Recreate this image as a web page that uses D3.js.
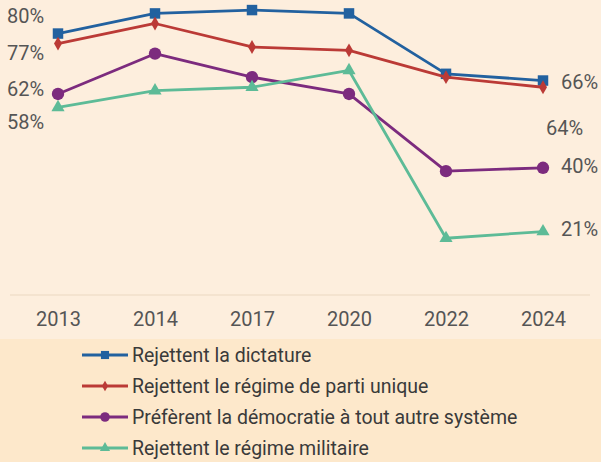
<!DOCTYPE html>
<meta charset="utf-8">
<html>
<head>
<style>
  body { margin: 0; background: #fdeedd; }
  svg { display: block; font-family: Roboto, sans-serif; }
</style>
</head>
<body>
<svg width="601" height="462"></svg>
<script src="https://d3js.org/d3.v7.min.js"></script>
<script>
// years on the x axis
var years = ["2013", "2014", "2017", "2020", "2022", "2024"];

// series values (percent)
var dictature = [80, 86, 87, 86, 68, 66];
var partiUnique = [77, 83, 76, 75, 67, 64];
var democratie = [62, 74, 67, 62, 39, 40];
var militaire = [58, 63, 64, 69, 19, 21];

var seriesNames = [
  "Rejettent la dictature",
  "Rejettent le régime de parti unique",
  "Préfèrent la démocratie à tout autre système",
  "Rejettent le régime militaire"
];

// text labels placed next to the lines
var leftLabels = ["80%", "77%", "62%", "58%"];
var rightLabels = ["66%", "64%", "40%", "21%"];

var svg = d3.select("svg");

var series = [
  {name: seriesNames[0], values: dictature, color: "#22619f", marker: d3.symbolSquare, size: 110},
  {name: seriesNames[1], values: partiUnique, color: "#bb3a36", marker: d3.symbolDiamond, size: 55},
  {name: seriesNames[2], values: democratie, color: "#7c2b7e", marker: d3.symbolCircle, size: 120},
  {name: seriesNames[3], values: militaire, color: "#5dbb97", marker: d3.symbolTriangle, size: 75}
];

var x = d3.scalePoint()
  .domain(years)
  .range([58, 543]);

var y = d3.scaleLinear()
  .domain([0, 90])
  .range([302, 0]);

// legend band
svg.append("rect")
  .attr("x", 0).attr("y", 339)
  .attr("width", 601).attr("height", 123)
  .attr("fill", "#fde8cb");

// baseline
svg.append("line")
  .attr("x1", 10).attr("x2", 590)
  .attr("y1", 295).attr("y2", 295)
  .attr("stroke", "#f0dfca")
  .attr("stroke-width", 1.5);

// x axis labels
var xAxis = svg.append("g")
  .attr("transform", "translate(0,310)")
  .call(d3.axisBottom(x).tickSize(0).tickPadding(0));
xAxis.select(".domain").remove();
xAxis.selectAll("text")
  .attr("dy", "0.8em")
  .attr("font-family", "Roboto, sans-serif")
  .attr("font-size", 20)
  .attr("fill", "#555");

var line = d3.line()
  .x(function(d, i) { return x(years[i]); })
  .y(function(d) { return y(d); });

series.forEach(function(s) {
  svg.append("path")
    .datum(s.values)
    .attr("fill", "none")
    .attr("stroke", s.color)
    .attr("stroke-width", 2.8)
    .attr("stroke-linejoin", "round")
    .attr("d", line);

  svg.append("g")
    .selectAll("path")
    .data(s.values)
    .enter().append("path")
    .attr("transform", function(d, i) { return "translate(" + x(years[i]) + "," + y(d) + ")"; })
    .attr("d", d3.symbol().type(s.marker).size(s.size))
    .attr("fill", s.color);
});

// left value labels
var leftY = [16, 53, 89, 122];
svg.append("g")
  .selectAll("text")
  .data(leftLabels)
  .enter().append("text")
  .attr("x", 7)
  .attr("y", function(d, i) { return leftY[i]; })
  .attr("dy", "0.35em")
  .attr("font-family", "Roboto, sans-serif")
  .attr("font-size", 20)
  .attr("fill", "#555")
  .text(function(d) { return d; });

// right value labels
var rightPos = [[561, 82], [546, 128], [561, 166], [561, 229]];
svg.append("g")
  .selectAll("text")
  .data(rightLabels)
  .enter().append("text")
  .attr("x", function(d, i) { return rightPos[i][0]; })
  .attr("y", function(d, i) { return rightPos[i][1]; })
  .attr("dy", "0.35em")
  .attr("font-family", "Roboto, sans-serif")
  .attr("font-size", 20)
  .attr("fill", "#555")
  .text(function(d) { return d; });

// legend
var legend = svg.append("g")
  .selectAll("g")
  .data(series)
  .enter().append("g")
  .attr("transform", function(d, i) { return "translate(82," + (355 + i * 31) + ")"; });

legend.append("line")
  .attr("x1", 0).attr("x2", 46)
  .attr("stroke", function(d) { return d.color; })
  .attr("stroke-width", 3);

legend.append("path")
  .attr("transform", "translate(23,0)")
  .attr("d", function(d) { return d3.symbol().type(d.marker).size(d.size * 0.6)(); })
  .attr("fill", function(d) { return d.color; });

legend.append("text")
  .attr("x", 50)
  .attr("dy", "0.35em")
  .attr("font-family", "Roboto, sans-serif")
  .attr("font-size", 19.5)
  .attr("fill", "#3a3a3a")
  .text(function(d) { return d.name; });
</script>
</body>
</html>
